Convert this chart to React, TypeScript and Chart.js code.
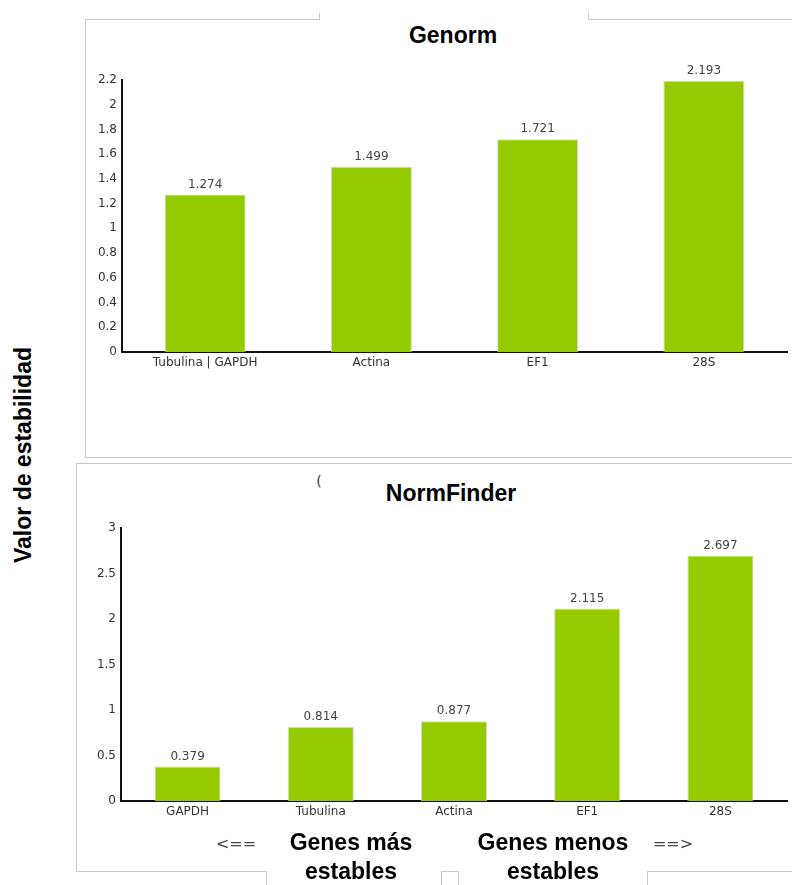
import React, { useEffect, useRef } from "react";
import { Chart, registerables } from "chart.js";

Chart.register(...registerables);

// geNorm stability values
const genormGenes = ["Tubulina | GAPDH", "Actina", "EF1", "28S"];
const genormValues = [1.274, 1.499, 1.721, 2.193];
const genormMax = 2.2;
const genormStep = 0.2;

// NormFinder stability values
const normFinderGenes = ["GAPDH", "Tubulina", "Actina", "EF1", "28S"];
const normFinderValues = [0.379, 0.814, 0.877, 2.115, 2.697];
const normFinderMax = 3;
const normFinderStep = 0.5;

const BAR_GREEN = "#94cb00";
const SMALL_FONT = "'DejaVu Sans', Verdana, sans-serif";
const BOLD_FONT = "'Liberation Sans', Arial, Helvetica, sans-serif";
const FRAME = "#c8c8c8";

// Writes each bar's value just above it
const valueLabels = {
  id: "valueLabels",
  afterDatasetsDraw(chart: any) {
    const ctx = chart.ctx;
    const meta = chart.getDatasetMeta(0);
    const data = chart.data.datasets[0].data as number[];
    ctx.save();
    ctx.font = `12px ${SMALL_FONT}`;
    ctx.fillStyle = "#444";
    ctx.textAlign = "center";
    ctx.textBaseline = "middle";
    meta.data.forEach((bar: any, i: number) => {
      ctx.fillText(String(data[i]), bar.x, bar.y - 10);
    });
    ctx.restore();
  },
};

type PanelProps = {
  labels: string[];
  values: number[];
  max: number;
  step: number;
  left: number;
  top: number;
  width: number;
  height: number;
  axisWidth: number;
  axisHeight: number;
  padTop: number;
  padRight: number;
  barPercentage: number;
};

function BarPanel(p: PanelProps) {
  const ref = useRef<HTMLCanvasElement | null>(null);

  useEffect(() => {
    if (!ref.current) return;
    const chart = new Chart(ref.current, {
      type: "bar",
      data: {
        labels: p.labels,
        datasets: [
          {
            data: p.values,
            backgroundColor: BAR_GREEN,
            borderColor: "rgba(205,215,190,0.9)",
            borderWidth: 1,
            categoryPercentage: 1,
            barPercentage: p.barPercentage,
          },
        ],
      },
      options: {
        responsive: false,
        animation: false,
        devicePixelRatio: 1,
        layout: { padding: { top: p.padTop, right: p.padRight, left: 0, bottom: 0 } },
        plugins: {
          legend: { display: false },
          title: { display: false },
          tooltip: { enabled: false },
        },
        scales: {
          x: {
            grid: { display: false, drawTicks: false },
            border: { display: true, color: "#111", width: 2 },
            ticks: {
              color: "#333",
              font: { family: SMALL_FONT, size: 12 },
              padding: 4,
              maxRotation: 0,
              autoSkip: false,
            },
            afterFit(scale: any) {
              scale.height = p.axisHeight;
            },
          },
          y: {
            min: 0,
            max: p.max,
            grid: { display: false, drawTicks: false },
            border: { display: true, color: "#111", width: 2 },
            ticks: {
              stepSize: p.step,
              color: "#333",
              font: { family: SMALL_FONT, size: 12 },
              padding: 5,
              callback: (v: any) => String(Number(Number(v).toFixed(1))),
            },
            afterFit(scale: any) {
              scale.width = p.axisWidth;
            },
          },
        },
      },
      plugins: [valueLabels],
    });
    return () => chart.destroy();
  }, []);

  return (
    <canvas
      ref={ref}
      width={p.width}
      height={p.height}
      style={{
        position: "absolute",
        left: p.left,
        top: p.top,
        width: p.width,
        height: p.height,
      }}
    />
  );
}

function Line(props: { left: number; top: number; w?: number; h?: number }) {
  const { left, top, w, h } = props;
  return (
    <div
      style={{
        position: "absolute",
        left,
        top,
        width: w ?? 0,
        height: h ?? 0,
        borderTop: w ? `1px solid ${FRAME}` : undefined,
        borderLeft: h ? `1px solid ${FRAME}` : undefined,
      }}
    />
  );
}

function Label(props: {
  x: number;
  y: number;
  text: React.ReactNode;
  size: number;
  bold?: boolean;
  color?: string;
  family?: string;
  rotate?: boolean;
  lineHeight?: number;
}) {
  return (
    <div
      style={{
        position: "absolute",
        left: props.x,
        top: props.y,
        transform: `translate(-50%, -50%)${props.rotate ? " rotate(-90deg)" : ""}`,
        fontFamily: props.family ?? BOLD_FONT,
        fontSize: props.size,
        fontWeight: props.bold ? "bold" : "normal",
        color: props.color ?? "#000",
        whiteSpace: "nowrap",
        textAlign: "center",
        lineHeight: props.lineHeight ? `${props.lineHeight}px` : "normal",
      }}
    >
      {props.text}
    </div>
  );
}

export default function App() {
  return (
    <div
      style={{
        position: "absolute",
        left: 0,
        top: 0,
        width: 792,
        height: 885,
        background: "#fff",
        overflow: "hidden",
      }}
    >
      {/* upper frame */}
      <Line left={85} top={19} w={234} />
      <Line left={319} top={13} h={7} />
      <Line left={588} top={19} w={204} />
      <Line left={588} top={13} h={7} />
      <Line left={85} top={19} h={438} />
      <Line left={85} top={457} w={707} />

      {/* lower frame */}
      <Line left={76} top={463} w={716} />
      <Line left={76} top={463} h={408} />
      <Line left={76} top={871} w={190} />
      <Line left={266} top={871} h={14} />
      <Line left={441} top={871} w={17} />
      <Line left={441} top={871} h={14} />
      <Line left={458} top={871} h={14} />
      <Line left={647} top={871} w={145} />
      <Line left={647} top={871} h={14} />

      <Label x={453} y={35} text="Genorm" size={23} bold />
      <BarPanel
        labels={genormGenes}
        values={genormValues}
        max={genormMax}
        step={genormStep}
        left={85}
        top={60}
        width={707}
        height={320}
        axisWidth={37}
        axisHeight={28}
        padTop={20}
        padRight={5}
        barPercentage={0.487}
      />

      <Label x={319} y={481} text="(" size={14} color="#333" family={SMALL_FONT} />
      <Label x={451} y={493} text="NormFinder" size={23} bold />
      <BarPanel
        labels={normFinderGenes}
        values={normFinderValues}
        max={normFinderMax}
        step={normFinderStep}
        left={76}
        top={510}
        width={716}
        height={330}
        axisWidth={45}
        axisHeight={39}
        padTop={18}
        padRight={5}
        barPercentage={0.496}
      />

      <Label x={23} y={455} text="Valor de estabilidad" size={23} bold rotate />

      <Label x={236} y={843} text="<==" size={16} color="#444" family={SMALL_FONT} />
      <Label
        x={351}
        y={857}
        text={
          <>
            Genes más
            <br />
            estables
          </>
        }
        size={23}
        bold
        lineHeight={29}
      />
      <Label
        x={553}
        y={857}
        text={
          <>
            Genes menos
            <br />
            estables
          </>
        }
        size={23}
        bold
        lineHeight={29}
      />
      <Label x={673} y={843} text="==>" size={16} color="#444" family={SMALL_FONT} />
    </div>
  );
}
